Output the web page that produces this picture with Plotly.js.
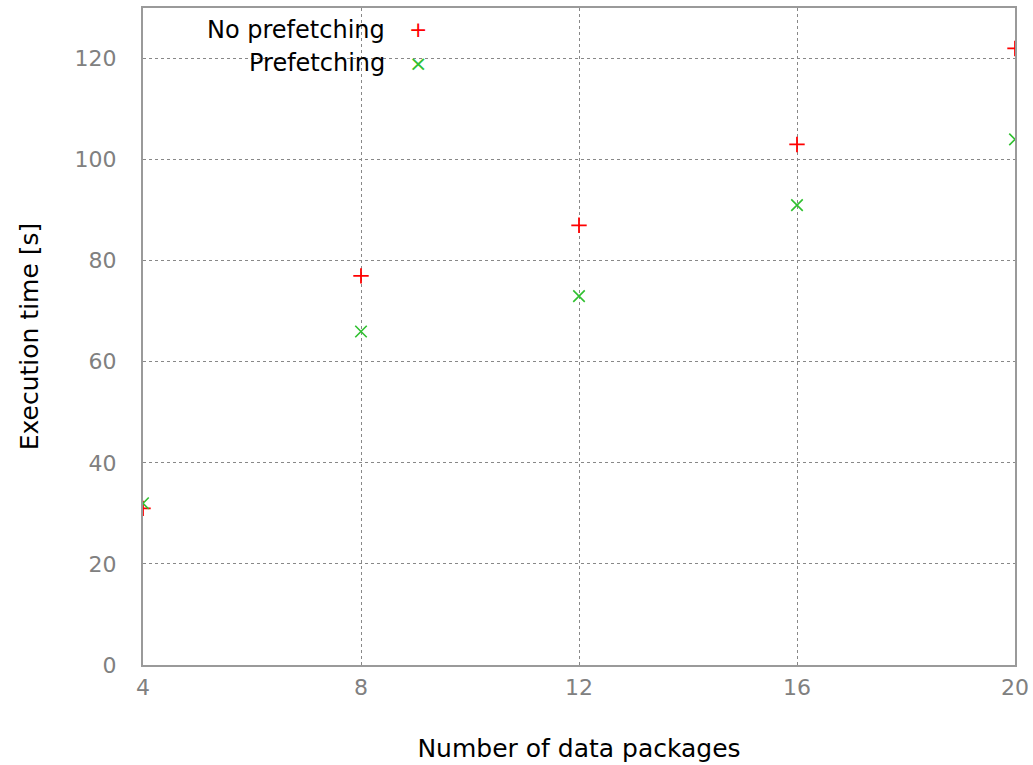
<!DOCTYPE html>
<html>
<head>
<meta charset="utf-8">
<script src="https://cdn.plot.ly/plotly-3.0.1.min.js"></script>
<style>html,body{margin:0;padding:0;background:#fff;}#chart{width:1033px;height:765px;}</style>
</head>
<body>
<div id="chart"></div>
<script>
var packages = [4, 8, 12, 16, 20];
var noPrefetching = [31, 77, 87, 103, 122];
var prefetching = [32, 66, 73, 91, 104];
var xTicks = [4, 8, 12, 16, 20];
var yTicks = [0, 20, 40, 60, 80, 100, 120];
var seriesNames = ['No prefetching', 'Prefetching'];

var red = '#ff0000', green = '#30c030';
var traces = [
  {x: packages, y: noPrefetching, mode: 'markers', name: seriesNames[0], showlegend: false,
   marker: {symbol: 'cross-thin', size: 11, color: red, line: {color: red, width: 1.8}}},
  {x: packages, y: prefetching, mode: 'markers', name: seriesNames[1], showlegend: false,
   marker: {symbol: 'x-thin', size: 11.5, color: green, line: {color: green, width: 1.6}}}
];

var FONT = 'DejaVu Sans, Verdana, sans-serif';
var layout = {
  width: 1033, height: 765,
  margin: {l: 143, r: 18, t: 8, b: 100},
  paper_bgcolor: '#fff', plot_bgcolor: '#fff',
  font: {family: FONT, color: '#000'},
  xaxis: {
    range: [4, 20], tickvals: xTicks, ticktext: xTicks.map(String),
    showgrid: true, gridcolor: '#888', griddash: 'dot', gridwidth: 1,
    zeroline: false, showline: true, linecolor: '#9a9a9a', linewidth: 2, mirror: true,
    ticks: '', ticklen: 0, ticklabelstandoff: 2,
    tickfont: {family: FONT, size: 22, color: '#808080'},
    title: {text: 'Number of data packages', font: {family: FONT, size: 25, color: '#000'}, standoff: 40}
  },
  yaxis: {
    range: [0, 130], tickvals: yTicks, ticktext: yTicks.map(String),
    showgrid: true, gridcolor: '#888', griddash: 'dot', gridwidth: 1,
    zeroline: false, showline: true, linecolor: '#9a9a9a', linewidth: 2, mirror: true,
    ticks: '', ticklen: 0, ticklabelstandoff: 20,
    tickfont: {family: FONT, size: 22, color: '#808080'},
    title: {text: 'Execution time [s]', font: {family: FONT, size: 25, color: '#000'}, standoff: 29}
  },
  shapes: [
    {type: 'rect', xref: 'paper', yref: 'paper', x0: 0.003, x1: 0.406, y0: 0.888, y1: 0.998,
     fillcolor: '#fff', line: {width: 0}, layer: 'below'}
  ],
  annotations: [
    {xref: 'paper', yref: 'paper', x: 0.2798, y: 0.9665, xanchor: 'right', yanchor: 'middle',
     text: seriesNames[0], showarrow: false, font: {family: FONT, size: 24, color: '#000'}},
    {xref: 'paper', yref: 'paper', x: 0.2798, y: 0.916, xanchor: 'right', yanchor: 'middle',
     text: seriesNames[1], showarrow: false, font: {family: FONT, size: 24, color: '#000'}},
    {xref: 'paper', yref: 'paper', x: 0.3154, y: 0.968, xanchor: 'center', yanchor: 'middle',
     text: '+', showarrow: false, font: {family: FONT, size: 22, color: red}},
    {xref: 'paper', yref: 'paper', x: 0.3154, y: 0.916, xanchor: 'center', yanchor: 'middle',
     text: '×', showarrow: false, font: {family: FONT, size: 22, color: green}}
  ]
};

Plotly.newPlot('chart', traces, layout, {displayModeBar: false, staticPlot: true});
</script>
</body>
</html>
